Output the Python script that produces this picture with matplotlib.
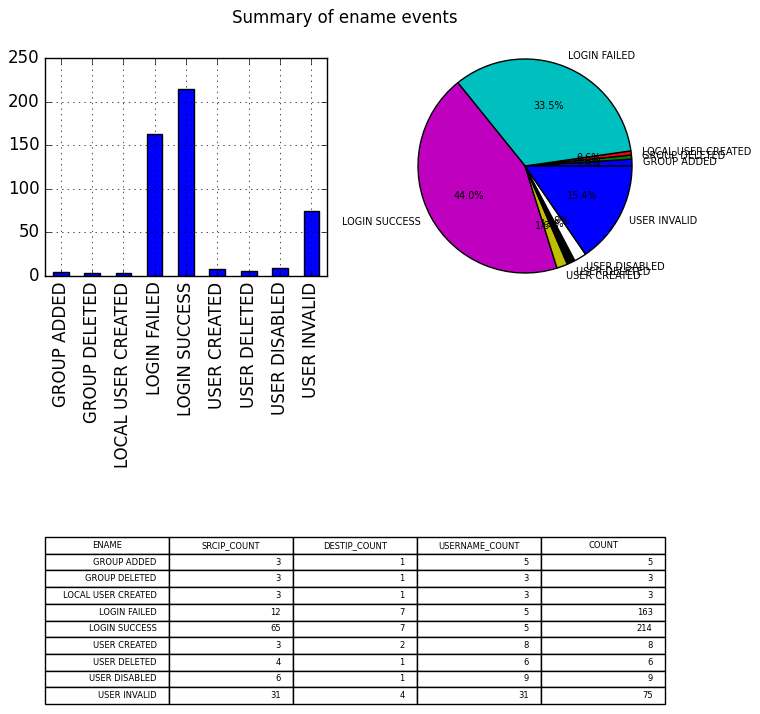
import matplotlib
matplotlib.use("Agg")
import matplotlib.pyplot as plt

plt.style.use('classic')

categories = ["GROUP ADDED", "GROUP DELETED", "LOCAL USER CREATED", "LOGIN FAILED",
              "LOGIN SUCCESS", "USER CREATED", "USER DELETED", "USER DISABLED", "USER INVALID"]
counts = [5, 3, 3, 163, 214, 8, 6, 9, 75]
srcip_count = [3, 3, 3, 12, 65, 3, 4, 6, 31]
destip_count = [1, 1, 1, 7, 7, 2, 1, 1, 4]
username_count = [5, 3, 3, 5, 5, 8, 6, 9, 31]
col_labels = ["ENAME", "SRCIP_COUNT", "DESTIP_COUNT", "USERNAME_COUNT", "COUNT"]
pie_colors = ['b', 'g', 'r', 'c', 'm', 'y', 'k', 'w', 'b']

W, H = 760, 714
fig = plt.figure(figsize=(7.6, 7.14), dpi=100, facecolor='white')
fig.suptitle("Summary of ename events", x=345 / W, y=0.988, fontsize=12)

# Bar chart
ax1 = fig.add_axes([45 / W, 1 - 276 / H, (327 - 45) / W, (276 - 58) / H])
x = list(range(len(categories)))
ax1.bar(x, counts, width=0.5, color='b', edgecolor='k', align='center')
ax1.set_xlim(-0.5, len(categories) - 0.5)
ax1.set_ylim(0, 250)
ax1.set_xticks(x)
ax1.set_xticklabels(categories, rotation=90)
ax1.grid(True)
ax1.set_axisbelow(False)

# Pie chart
cx, cy, r = 525, 166, 107
ax2 = fig.add_axes([(cx - r) / W, 1 - (cy + r) / H, 2 * r / W, 2 * r / H])
ax2.pie(counts, labels=categories, colors=pie_colors, autopct='%1.1f%%',
        startangle=0, textprops={'fontsize': 7},
        wedgeprops={'edgecolor': 'k', 'linewidth': 1})
ax2.set_xlim(-1, 1)
ax2.set_ylim(-1, 1)
ax2.set_aspect('equal')
ax2.axis('off')

# Table
cell_text = [[categories[i], str(srcip_count[i]), str(destip_count[i]),
              str(username_count[i]), str(counts[i])] for i in range(len(categories))]
tax = fig.add_axes([45 / W, 1 - 704 / H, (665 - 45) / W, (704 - 537) / H])
tax.axis('off')
tbl = tax.table(cellText=cell_text, colLabels=col_labels, loc='center', bbox=[0, 0, 1, 1])
tbl.auto_set_font_size(False)
tbl.set_fontsize(6)

fig.savefig("out.png", dpi=100, facecolor='white')
